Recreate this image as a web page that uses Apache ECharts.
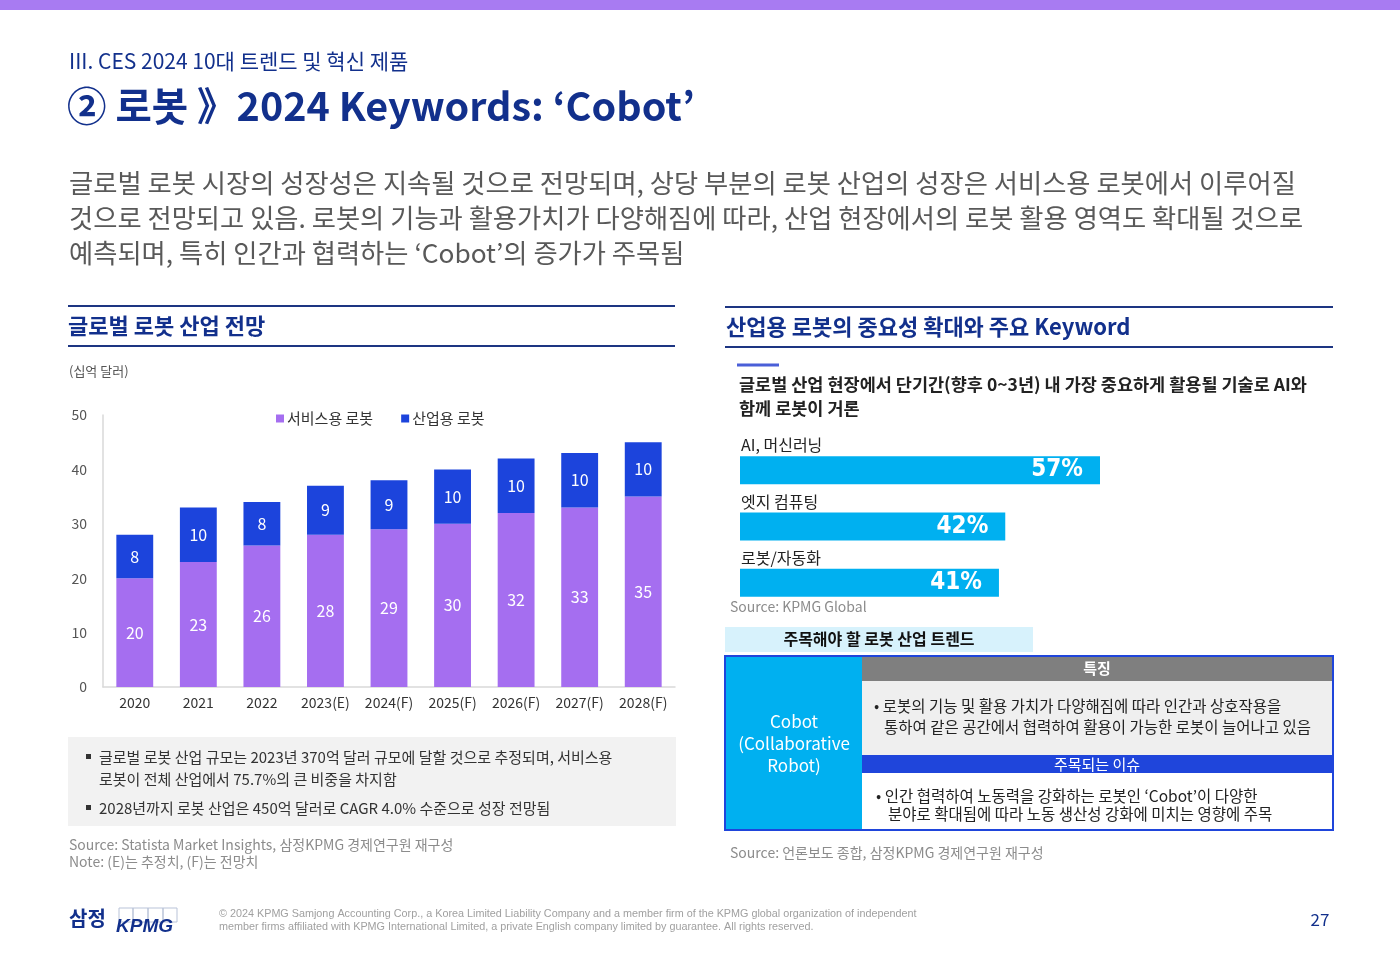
<!DOCTYPE html>
<html>
<head>
<meta charset="utf-8">
<script src="https://cdn.jsdelivr.net/npm/echarts@6/dist/echarts.min.js"></script>
<style>
  html, body { margin: 0; padding: 0; background: #fff; }
  #chart { width: 1400px; height: 970px; }
</style>
</head>
<body>
<div id="chart"></div>
<script>
// chart data
const years = ['2020', '2021', '2022', '2023(E)', '2024(F)', '2025(F)', '2026(F)', '2027(F)', '2028(F)'];
const serviceRobot = [20, 23, 26, 28, 29, 30, 32, 33, 35];
const industrialRobot = [8, 10, 8, 9, 9, 10, 10, 10, 10];
const yTicks = [0, 10, 20, 30, 40, 50];

const techNames = ['AI, 머신러닝', '엣지 컴퓨팅', '로봇/자동화'];
const techShare = [57, 42, 41];

const KR = '"Noto Sans CJK KR", "Noto Sans", sans-serif';
const NARROW = '"Liberation Sans Narrow", "DejaVu Sans Condensed", sans-serif';
const NAVY = '#12308c';
const PURPLE = '#a56ef0';
const BLUE = '#1c44dc';
const CYAN = '#00b0f0';

// text helper for the slide furniture
function ctxt(x, y, text, opts) {
  opts = opts || {};
  return {
    type: 'text', x: x, y: y,
    style: {
      text: text, fill: opts.color || '#333', fontSize: opts.size || 14,
      fontWeight: opts.weight || 'normal', fontFamily: opts.family || KR,
      fontStyle: opts.italic ? 'italic' : 'normal',
      align: opts.align || 'center', verticalAlign: 'middle'
    },
    z: 10
  };
}
function rect(x, y, w, h, fill, stroke, lw) {
  return {
    type: 'rect', shape: { x: x, y: y, width: w, height: h },
    style: { fill: fill || 'none', stroke: stroke || null, lineWidth: lw || 0 },
    z: 2
  };
}
function hline(x1, x2, y, color, w) {
  return {
    type: 'line', shape: { x1: x1, y1: y, x2: x2, y2: y },
    style: { stroke: color, lineWidth: w || 2 }, z: 3
  };
}
function box(x, y, w, h) {
  return { type: 'rect', shape: { x: x, y: y, width: w, height: h }, style: { fill: 'none', stroke: '#b9c3d8', lineWidth: 1 }, z: 3 };
}

const graphics = [
  rect(0, 0, 1400, 10, '#a87bf2'),
  ctxt(69, 61, 'III. CES 2024 10대 트렌드 및 혁신 제품', { size: 21, color: NAVY, align: 'left' }),
  ctxt(67, 106, '② 로봇 》2024 Keywords: ‘Cobot’', { size: 39.5, color: NAVY, weight: 'bold', align: 'left' }),
  ctxt(69, 183, '글로벌 로봇 시장의 성장성은 지속될 것으로 전망되며, 상당 부분의 로봇 산업의 성장은 서비스용 로봇에서 이루어질', { size: 26.3, color: '#595959', align: 'left' }),
  ctxt(69, 218, '것으로 전망되고 있음. 로봇의 기능과 활용가치가 다양해짐에 따라, 산업 현장에서의 로봇 활용 영역도 확대될 것으로', { size: 26.3, color: '#595959', align: 'left' }),
  ctxt(69, 253, '예측되며, 특히 인간과 협력하는 ‘Cobot’의 증가가 주목됨', { size: 26.3, color: '#595959', align: 'left' }),

  // left section
  hline(68, 675, 306, '#1d3582', 2),
  ctxt(68, 326, '글로벌 로봇 산업 전망', { size: 22, color: NAVY, weight: 'bold', align: 'left' }),
  hline(68, 675, 346, '#1d3582', 2),
  ctxt(69, 371, '(십억 달러)', { size: 13, color: '#555', align: 'left' }),
  rect(68, 737, 608, 89, '#f2f2f2'),
  rect(86, 754, 5, 5, '#333'),
  ctxt(99, 757, '글로벌 로봇 산업 규모는 2023년 370억 달러 규모에 달할 것으로 추정되며, 서비스용', { size: 15, color: '#333', align: 'left' }),
  ctxt(99, 779, '로봇이 전체 산업에서 75.7%의 큰 비중을 차지함', { size: 15, color: '#333', align: 'left' }),
  rect(86, 805, 5, 5, '#333'),
  ctxt(99, 808, '2028년까지 로봇 산업은 450억 달러로 CAGR 4.0% 수준으로 성장 전망됨', { size: 15, color: '#333', align: 'left' }),
  ctxt(69, 845, 'Source: Statista Market Insights, 삼정KPMG 경제연구원 재구성', { size: 14, color: '#8c8c8c', align: 'left' }),
  ctxt(69, 862, 'Note: (E)는 추정치, (F)는 전망치', { size: 14, color: '#8c8c8c', align: 'left' }),

  // right section
  hline(725, 1333, 307, '#1d3582', 2),
  ctxt(726, 327, '산업용 로봇의 중요성 확대와 주요 Keyword', { size: 22, color: NAVY, weight: 'bold', align: 'left' }),
  hline(725, 1333, 347, '#1d3582', 2),
  hline(737, 779, 365, '#4a5fd8', 3),
  ctxt(739, 384, '글로벌 산업 현장에서 단기간(향후 0~3년) 내 가장 중요하게 활용될 기술로 AI와', { size: 17.5, color: '#222', weight: 'bold', align: 'left' }),
  ctxt(739, 408, '함께 로봇이 거론', { size: 17.5, color: '#222', weight: 'bold', align: 'left' }),
  ctxt(730, 607, 'Source: KPMG Global', { size: 14, color: '#8c8c8c', align: 'left' }),

  rect(725, 627, 308, 25, '#d7f2fc'),
  ctxt(879, 639, '주목해야 할 로봇 산업 트렌드', { size: 16, color: '#111', weight: 'bold' }),

  rect(725, 656, 137, 174, CYAN),
  rect(862, 656, 471, 25, '#7f7f7f'),
  rect(862, 681, 471, 74, '#efefef'),
  rect(862, 755, 471, 18, '#1f45db'),
  rect(862, 773, 471, 57, '#ffffff'),
  { type: 'rect', shape: { x: 725, y: 656, width: 608, height: 174 }, style: { fill: 'none', stroke: '#1f45db', lineWidth: 2 }, z: 4 },
  ctxt(794, 722, 'Cobot', { size: 17, color: '#fff' }),
  ctxt(794, 744, '(Collaborative', { size: 17, color: '#fff' }),
  ctxt(794, 766, 'Robot)', { size: 17, color: '#fff' }),
  ctxt(1097, 668, '특징', { size: 15, color: '#fff', weight: 'bold' }),
  ctxt(874, 706, '• 로봇의 기능 및 활용 가치가 다양해짐에 따라 인간과 상호작용을', { size: 15.5, color: '#222', align: 'left' }),
  ctxt(884, 727, '통하여 같은 공간에서 협력하여 활용이 가능한 로봇이 늘어나고 있음', { size: 15.5, color: '#222', align: 'left' }),
  ctxt(1097, 764, '주목되는 이슈', { size: 15, color: '#fff' }),
  ctxt(876, 796, '• 인간 협력하여 노동력을 강화하는 로봇인 ‘Cobot’이 다양한', { size: 15.5, color: '#222', align: 'left' }),
  ctxt(888, 814, '분야로 확대됨에 따라 노동 생산성 강화에 미치는 영향에 주목', { size: 15.5, color: '#222', align: 'left' }),
  ctxt(730, 853, 'Source: 언론보도 종합, 삼정KPMG 경제연구원 재구성', { size: 14, color: '#8c8c8c', align: 'left' }),

  // footer
  ctxt(69, 918, '삼정', { size: 20, color: NAVY, weight: 'bold', align: 'left' }),
  box(119, 908, 14, 14), box(133, 908, 15, 14), box(148, 908, 15, 14), box(163, 908, 14, 14),
  ctxt(116, 927, 'KPMG', { size: 19, color: NAVY, weight: 'bold', italic: true, align: 'left', family: '"Liberation Sans", Arial, sans-serif' }),
  ctxt(219, 914, '© 2024 KPMG Samjong Accounting Corp., a Korea Limited Liability Company and a member firm of the KPMG global organization of independent', { size: 10.8, color: '#a0a0a0', align: 'left', family: '"Liberation Sans Narrow", "Liberation Sans", sans-serif' }),
  ctxt(219, 927, 'member firms affiliated with KPMG International Limited, a private English company limited by guarantee. All rights reserved.', { size: 10.8, color: '#a0a0a0', align: 'left', family: '"Liberation Sans Narrow", "Liberation Sans", sans-serif' }),
  ctxt(1320, 920, '27', { size: 17, color: NAVY })
];

const chart = echarts.init(document.getElementById('chart'), null, { renderer: 'canvas' });
chart.setOption({
  backgroundColor: '#ffffff',
  animation: false,
  textStyle: { fontFamily: KR },
  legend: {
    data: ['서비스용 로봇', '산업용 로봇'],
    left: 271, top: 406,
    icon: 'rect', itemWidth: 8, itemHeight: 8, itemGap: 28,
    textStyle: { fontSize: 15, color: '#333', fontFamily: KR, padding: [0, 0, 0, -2] }
  },
  grid: [
    { left: 103, top: 415, width: 572, height: 272 },
    { left: 740, top: 442, width: 600, height: 169 }
  ],
  xAxis: [
    {
      gridIndex: 0, type: 'category', data: years,
      axisLine: { lineStyle: { color: '#d9d9d9', width: 1.5 } },
      axisTick: { show: false },
      axisLabel: { color: '#333', fontSize: 14, margin: 9, fontFamily: KR }
    },
    { gridIndex: 1, type: 'value', min: 0, max: 95, show: false }
  ],
  yAxis: [
    {
      gridIndex: 0, type: 'value', min: yTicks[0], max: yTicks[yTicks.length - 1], interval: 10,
      axisLine: { show: true, lineStyle: { color: '#d9d9d9', width: 1.5 } },
      axisTick: { show: false },
      splitLine: { show: false },
      axisLabel: { color: '#555', fontSize: 14, margin: 16, fontFamily: KR }
    },
    {
      gridIndex: 1, type: 'category', data: techNames, inverse: true,
      axisLine: { show: false }, axisTick: { show: false },
      axisLabel: {
        inside: true, margin: 1, align: 'left', verticalAlign: 'bottom',
        padding: [0, 0, 17, 0], color: '#222', fontSize: 16, fontFamily: KR
      }
    }
  ],
  series: [
    {
      name: '서비스용 로봇', type: 'bar', stack: 'total', data: serviceRobot,
      xAxisIndex: 0, yAxisIndex: 0, barCategoryGap: '42%',
      itemStyle: { color: PURPLE },
      label: { show: true, position: 'inside', color: '#fff', fontSize: 16, fontFamily: KR }
    },
    {
      name: '산업용 로봇', type: 'bar', stack: 'total', data: industrialRobot,
      xAxisIndex: 0, yAxisIndex: 0, barCategoryGap: '42%',
      itemStyle: { color: BLUE },
      label: { show: true, position: 'inside', color: '#fff', fontSize: 16, fontFamily: KR }
    },
    {
      name: 'tech', type: 'bar', data: techShare,
      xAxisIndex: 1, yAxisIndex: 1, barWidth: 28,
      itemStyle: { color: CYAN },
      label: {
        show: true, position: 'insideRight', distance: 17, formatter: '{c}%',
        color: '#fff', fontSize: 24, fontWeight: 'bold', fontFamily: NARROW
      }
    }
  ],
  graphic: graphics
});
</script>
</body>
</html>
